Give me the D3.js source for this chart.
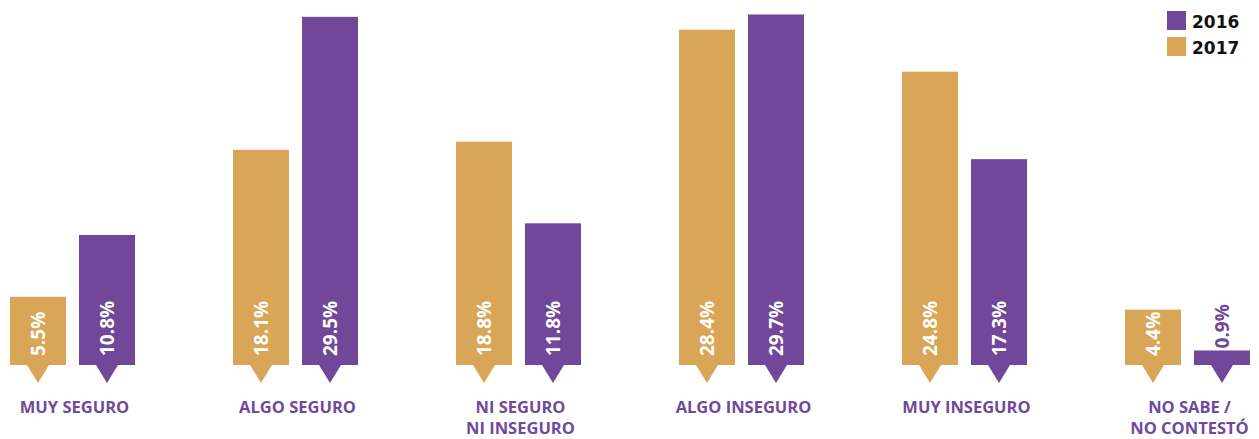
<!DOCTYPE html>
<html><head><meta charset="utf-8">
<script src="https://cdn.jsdelivr.net/npm/d3@7"></script>
<style>body{margin:0;background:#fff}svg{display:block}</style>
</head><body><svg id="c" width="1259" height="439"></svg>
<script>
const categories = [["MUY SEGURO"],["ALGO SEGURO"],["NI SEGURO","NI INSEGURO"],["ALGO INSEGURO"],["MUY INSEGURO"],["NO SABE /","NO CONTESTÓ"]];
const series = ["2017","2016"];
const values2017 = [5.5, 18.1, 18.8, 28.4, 24.8, 4.4];
const values2016 = [10.8, 29.5, 11.8, 29.7, 17.3, 0.9];
const legendKeys = ["2016","2017"];

const colors = {"2016":"#704799","2017":"#D8A656"};
const labelColor = "#6F4A9C";
const font = "'Open Sans', sans-serif";

const svg = d3.select("#c");
const base = 365;
const catIds = categories.map((c,i)=>i);
const x0 = d3.scaleBand().domain(catIds).range([-39, 1299]);
const x1 = d3.scaleBand().domain(series).range([0,125]).paddingInner(13/69);
const y = d3.scaleLinear().domain([-0.345, 30]).range([base, 11]);

const data = [];
catIds.forEach(i=>{
  data.push({cat:i, key:"2017", v:values2017[i]});
  data.push({cat:i, key:"2016", v:values2016[i]});
});
const off = (x0.bandwidth()-125)/2;
const bx = d=> x0(d.cat)+off+x1(d.key);
const bw = x1.bandwidth();

const g = svg.append("g");
g.selectAll("rect.bar").data(data).join("rect")
  .attr("x", bx).attr("y", d=>y(d.v)).attr("width", bw).attr("height", d=>base-y(d.v))
  .attr("fill", d=>colors[d.key]);

g.selectAll("path.tri").data(data).join("path")
  .attr("d", d=>{const cx=bx(d)+bw/2; return `M${cx-11},${base}L${cx+11},${base}L${cx},${base+18}Z`;})
  .attr("fill", d=>colors[d.key]);

g.selectAll("text.val").data(data).join("text")
  .each(function(d){
    const cx = bx(d)+bw/2;
    const inside = base - y(d.v) > 50;
    const ty = inside ? base-9 : y(d.v)-2;
    d3.select(this)
      .attr("transform", `translate(${cx+7},${ty}) rotate(-90)`)
      .attr("fill", inside ? "#fff" : colors[d.key]);
  })
  .attr("text-anchor","start")
  .attr("font-family", font).attr("font-weight", 700).attr("font-size", 19)
  .text(d=>d.v.toFixed(1)+"%");

const cl = svg.append("g");
catIds.forEach(i=>{
  const cx = x0(i)+x0.bandwidth()/2 + 2;
  const t = cl.append("text").attr("text-anchor","middle")
    .attr("font-family", font).attr("font-weight", 700).attr("font-size", 16.5)
    .attr("fill", labelColor);
  categories[i].forEach((line,j)=>{
    t.append("tspan").attr("x", cx).attr("y", 413 + j*21).text(line);
  });
});

const lg = svg.append("g");
legendKeys.forEach((k,i)=>{
  lg.append("rect").attr("x",1167).attr("y",11+i*26).attr("width",19).attr("height",19).attr("fill",colors[k]);
  lg.append("text").attr("x",1192).attr("y",28+i*26)
    .attr("font-family", "'DejaVu Sans', sans-serif").attr("font-weight", 700).attr("font-size", 17)
    .attr("fill","#111").text(k);
});
</script></body></html>
